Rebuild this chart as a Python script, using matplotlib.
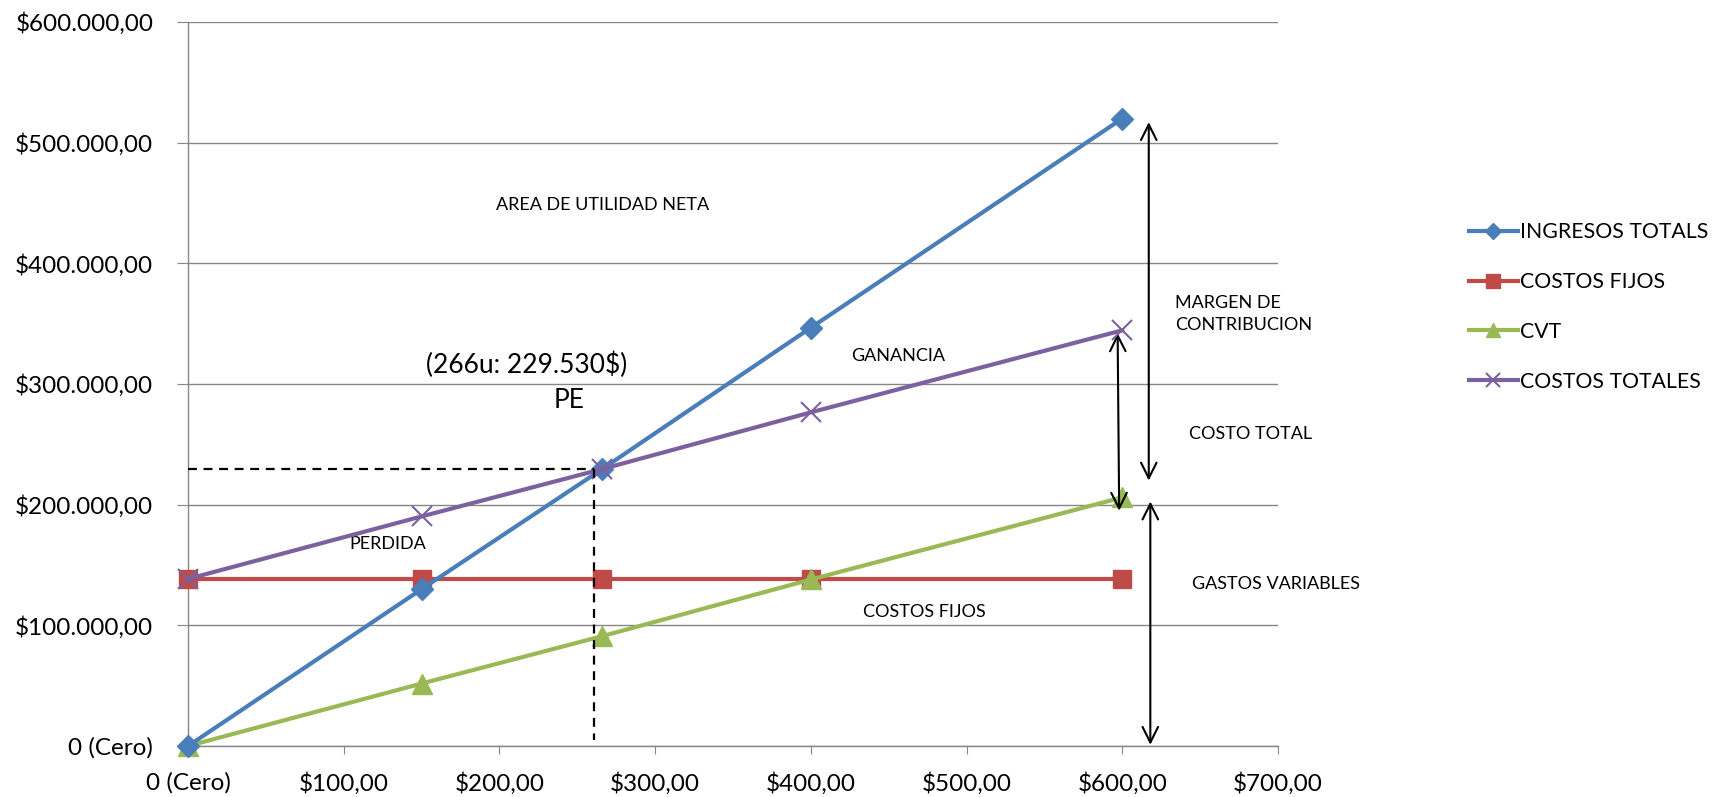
import matplotlib
matplotlib.use("Agg")
import matplotlib.pyplot as plt

# Unidades vendidas y montos de cada serie
unidades = [0, 150, 266, 400, 600]
ingresos_totales = [0, 130000, 229530, 346667, 520000]
costos_fijos = [138500, 138500, 138500, 138500, 138500]
cvt = [0, 51750, 91030, 138000, 206000]
costos_totales = [138500, 190250, 229530, 276500, 344500]

x_ticks = [0, 100, 200, 300, 400, 500, 600, 700]
x_labels = ["0 (Cero)", "$100,00", "$200,00", "$300,00", "$400,00", "$500,00", "$600,00", "$700,00"]
y_ticks = [0, 100000, 200000, 300000, 400000, 500000, 600000]
y_labels = ["0 (Cero)", "$100.000,00", "$200.000,00", "$300.000,00", "$400.000,00",
            "$500.000,00", "$600.000,00"]

pe_x, pe_y = 261, 229530

plt.rcParams['font.family'] = ['Lato', 'DejaVu Sans']
gris = "#868686"

fig = plt.figure(figsize=(17.35, 7.97), dpi=100)
ax = fig.add_axes([0.1084, 0.064, 0.6282, 0.9084])

ax.plot(unidades, ingresos_totales, color="#4A7EBB", lw=3, marker="D", ms=11,
        label="INGRESOS TOTALS", clip_on=False, zorder=4)
ax.plot(unidades, costos_fijos, color="#BE4B48", lw=3, marker="s", ms=13,
        label="COSTOS FIJOS", clip_on=False, zorder=3)
ax.plot(unidades, cvt, color="#98B954", lw=3, marker="^", ms=14,
        label="CVT", clip_on=False, zorder=3)
ax.plot(unidades, costos_totales, color="#7D60A0", lw=3, marker="x", ms=14, mew=1.5,
        label="COSTOS TOTALES", clip_on=False, zorder=5)

# punto de equilibrio
ax.plot([0, pe_x], [pe_y, pe_y], color="black", lw=1.6, ls=(0, (4, 3)), zorder=6)
ax.plot([pe_x, pe_x], [pe_y, 5000], color="black", lw=1.6, ls=(0, (4, 3)), zorder=6)

ax.set_xlim(0, 700)
ax.set_ylim(0, 600000)
ax.set_xticks(x_ticks)
ax.set_xticklabels(x_labels)
ax.set_yticks(y_ticks)
ax.set_yticklabels(y_labels)
ax.tick_params(axis="y", direction="out", length=8, color=gris, labelsize=17.5, pad=17)
ax.tick_params(axis="x", direction="out", length=6, color=gris, labelsize=17.5, pad=13)
ax.grid(axis="y", color=gris, lw=1)
ax.set_axisbelow(True)
for s in ["top", "right"]:
    ax.spines[s].set_visible(False)
for s in ["left", "bottom"]:
    ax.spines[s].set_color(gris)
    ax.spines[s].set_linewidth(1)

# textos
small = dict(fontsize=13, color="black")
ax.text(266, 448600, "AREA DE UTILIDAD NETA", ha="center", va="center", **small)
ax.text(217.5, 315600, "(266u: 229.530$)", ha="center", va="center", fontsize=19)
ax.text(244.5, 286000, "PE", ha="center", va="center", fontsize=19)
ax.text(456, 323000, "GANANCIA", ha="center", va="center", **small)
ax.text(128, 167000, "PERDIDA", ha="center", va="center", **small)
ax.text(473, 111000, "COSTOS FIJOS", ha="center", va="center", **small)
ax.text(634, 357800, "MARGEN DE\nCONTRIBUCION", ha="left", va="center",
        linespacing=1.5, clip_on=False, **small)
ax.text(643, 258700, "COSTO TOTAL", ha="left", va="center", clip_on=False, **small)
ax.text(645, 134000, "GASTOS VARIABLES", ha="left", va="center", clip_on=False, **small)

# flechas
flecha = dict(arrowstyle="<->", color="black", lw=1.5, mutation_scale=28,
              shrinkA=0, shrinkB=0)
ax.annotate("", xy=(617, 517000), xytext=(617, 220000), arrowprops=flecha,
            annotation_clip=False)
ax.annotate("", xy=(597, 342000), xytext=(598, 195000), arrowprops=flecha,
            annotation_clip=False)
ax.annotate("", xy=(618, 202600), xytext=(618, 1000), arrowprops=flecha,
            annotation_clip=False)

fig.legend(loc="upper left", bbox_to_anchor=(0.8467, 0.721), frameon=False,
           fontsize=15.3, handlelength=2.3, handletextpad=0.1, labelspacing=1.4,
           borderpad=0, borderaxespad=0, markerscale=0.75)

fig.savefig("out.png", dpi=100)
